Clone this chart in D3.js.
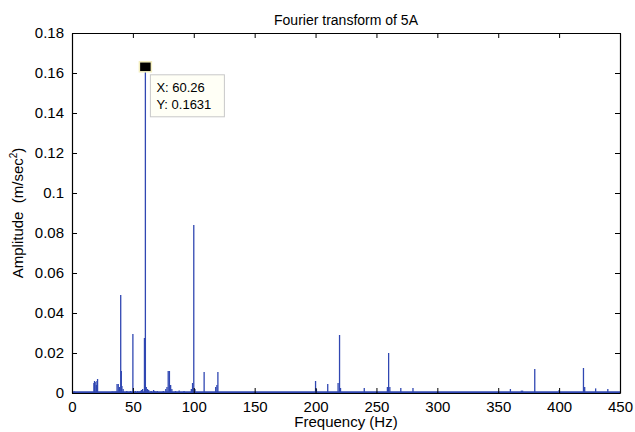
<!DOCTYPE html>
<html>
<head>
<meta charset="utf-8">
<script src="https://cdn.jsdelivr.net/npm/d3@7"></script>
<style>
  body { margin: 0; background: #fff; }
  svg { font-family: "Liberation Sans", Arial, sans-serif; }
</style>
</head>
<body>
<svg id="chart"></svg>
<script>
// peak frequencies (Hz) and amplitudes (m/sec^2)
const peakFreqs = [
  2, 18, 18.5, 19, 20, 20.5, 21, 33, 34.5, 36, 37, 38, 39,
  40, 40.5, 41, 42, 45, 48, 50, 52, 54, 56, 57, 58,
  59.5, 60.26, 61, 62, 63, 65, 67, 68, 70, 75, 77, 78, 79, 80, 81, 82,
  85, 88, 92, 98, 99, 100, 101, 108.5, 118, 119, 119.8,
  200, 200.7, 210, 218.5, 219.7, 220.5, 240, 259, 260, 261, 270, 280,
  360, 369, 370, 380, 400, 420, 421, 430, 440
];
const peakAmps = [
  0.0008, 0.005, 0.006, 0.0055, 0.004, 0.006, 0.007, 0.0008, 0.0008, 0.0008, 0.0045, 0.0045, 0.003,
  0.049, 0.011, 0.0035, 0.002, 0.001, 0.001, 0.0295, 0.001, 0.001, 0.001, 0.0015, 0.002,
  0.0275, 0.1631, 0.003, 0.002, 0.0015, 0.001, 0.0015, 0.001, 0.001, 0.001, 0.002, 0.003, 0.011, 0.011, 0.004, 0.002,
  0.001, 0.0012, 0.001, 0.002, 0.005, 0.084, 0.002, 0.0105, 0.003, 0.004, 0.0105,
  0.006, 0.002, 0.0045, 0.005, 0.029, 0.0025, 0.0025, 0.003, 0.020, 0.003, 0.0025, 0.0025,
  0.002, 0.0012, 0.0012, 0.012, 0.0015, 0.0125, 0.003, 0.0023, 0.002
];

const xTicks = [0, 50, 100, 150, 200, 250, 300, 350, 400, 450];
const yTicks = [0, 0.02, 0.04, 0.06, 0.08, 0.1, 0.12, 0.14, 0.16, 0.18];
const yTickLabels = ["0", "0.02", "0.04", "0.06", "0.08", "0.1", "0.12", "0.14", "0.16", "0.18"];

const tipX = 60.26;
const tipY = 0.1631;

const width = 635;
const height = 432;
const margin = { top: 33, right: 15, bottom: 39, left: 72 };
const lineColor = "#3047b2";

const svg = d3.select("#chart").attr("width", width).attr("height", height);

const xScale = d3.scaleLinear().domain([0, 450]).range([margin.left, width - margin.right]);
const yScale = d3.scaleLinear().domain([0, 0.18]).range([height - margin.bottom, margin.top]);

const peaks = peakFreqs.map((f, i) => ({ f: f, a: peakAmps[i] }));

// stems
svg.append("g")
  .selectAll("line")
  .data(peaks)
  .enter()
  .append("line")
  .attr("x1", (d) => xScale(d.f))
  .attr("x2", (d) => xScale(d.f))
  .attr("y1", yScale(0))
  .attr("y2", (d) => yScale(d.a))
  .attr("stroke", lineColor)
  .attr("stroke-width", 1.3);

// noise floor along the bottom
svg.append("line")
  .attr("x1", xScale(0))
  .attr("x2", xScale(450))
  .attr("y1", yScale(0.0004))
  .attr("y2", yScale(0.0004))
  .attr("stroke", lineColor)
  .attr("stroke-width", 2);

// axes, MATLAB style: ticks inward on all four sides
const tickLen = 5;
const bottomAxis = d3.axisBottom(xScale).tickValues(xTicks).tickSizeInner(-tickLen).tickSizeOuter(0).tickPadding(8);
const topAxis = d3.axisTop(xScale).tickValues(xTicks).tickSizeInner(-tickLen).tickSizeOuter(0).tickFormat("");
const leftAxis = d3.axisLeft(yScale).tickValues(yTicks).tickSizeInner(-tickLen).tickSizeOuter(0).tickPadding(8)
  .tickFormat((d, i) => yTickLabels[i]);
const rightAxis = d3.axisRight(yScale).tickValues(yTicks).tickSizeInner(-tickLen).tickSizeOuter(0).tickFormat("");

const styleAxis = (g) => {
  g.select(".domain").attr("stroke", "#000").attr("stroke-width", 1.2);
  g.selectAll(".tick line").attr("stroke", "#000");
  g.selectAll(".tick text").attr("fill", "#000").style("font-size", "15px");
};

svg.append("g").attr("transform", "translate(0," + yScale(0) + ")").call(bottomAxis).call(styleAxis);
svg.append("g").attr("transform", "translate(0," + margin.top + ")").call(topAxis).call(styleAxis);
svg.append("g").attr("transform", "translate(" + margin.left + ",0)").call(leftAxis).call(styleAxis);
svg.append("g").attr("transform", "translate(" + (width - margin.right) + ",0)").call(rightAxis).call(styleAxis);

// title and labels
svg.append("text")
  .attr("x", (margin.left + width - margin.right) / 2)
  .attr("y", 25)
  .attr("text-anchor", "middle")
  .style("font-size", "14px")
  .text("Fourier transform of 5A");

svg.append("text")
  .attr("x", (margin.left + width - margin.right) / 2)
  .attr("y", 427)
  .attr("text-anchor", "middle")
  .style("font-size", "15px")
  .text("Frequency (Hz)");

const yLabel = svg.append("text")
  .attr("transform", "translate(23," + (yScale(0.09)) + ") rotate(-90)")
  .attr("text-anchor", "middle")
  .style("font-size", "15px")
  .style("white-space", "pre");
yLabel.append("tspan").text("Amplitude  (m/sec");
yLabel.append("tspan").attr("dy", -6).style("font-size", "10px").text("2");
yLabel.append("tspan").attr("dy", 6).text(")");

// data tip
const mx = xScale(tipX);
const my = yScale(tipY);
svg.append("rect")
  .attr("x", mx - 6)
  .attr("y", my - 5)
  .attr("width", 12)
  .attr("height", 10)
  .attr("fill", "#000")
  .attr("stroke", "#f3eec0")
  .attr("stroke-width", 1.5);

const box = svg.append("g").attr("transform", "translate(" + (mx + 5) + "," + (my + 8) + ")");
box.append("rect")
  .attr("width", 74)
  .attr("height", 42)
  .attr("fill", "#fffff6")
  .attr("stroke", "#c8c8c8");
box.append("text").attr("x", 6).attr("y", 17).style("font-size", "13px").text("X: " + tipX);
box.append("text").attr("x", 6).attr("y", 34).style("font-size", "13px").text("Y: " + tipY);
</script>
</body>
</html>
